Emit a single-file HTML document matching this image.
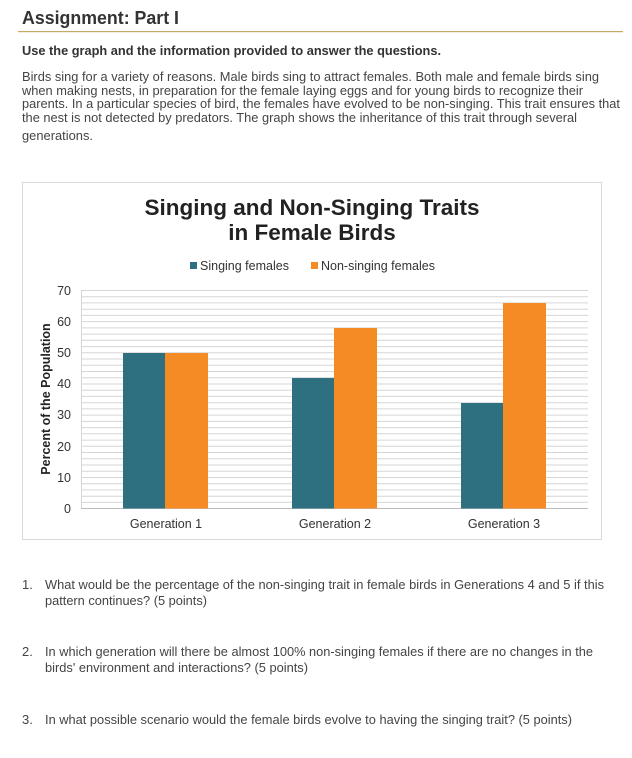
<!DOCTYPE html>
<html><head><meta charset="utf-8"><style>
html,body{margin:0;padding:0;background:#fff;}
svg{display:block;font-family:"Liberation Sans",sans-serif;}
</style></head><body>
<svg width="632" height="758" viewBox="0 0 632 758" xmlns="http://www.w3.org/2000/svg">
<rect width="632" height="758" fill="#fff"/>
<text x="22" y="24" font-size="18.5" font-weight="bold" fill="#333" textLength="157" lengthAdjust="spacingAndGlyphs">Assignment: Part I</text>
<rect x="18" y="31" width="605" height="1.2" fill="#c9a865"/>
<text x="22" y="55" font-size="12.5" font-weight="bold" fill="#333" textLength="419" lengthAdjust="spacingAndGlyphs">Use the graph and the information provided to answer the questions.</text>
<g font-size="13" fill="#444">
<text x="22" y="81" textLength="577" lengthAdjust="spacingAndGlyphs">Birds sing for a variety of reasons. Male birds sing to attract females. Both male and female birds sing</text>
<text x="22" y="95" textLength="561" lengthAdjust="spacingAndGlyphs">when making nests, in preparation for the female laying eggs and for young birds to recognize their</text>
<text x="22" y="108" textLength="598" lengthAdjust="spacingAndGlyphs">parents. In a particular species of bird, the females have evolved to be non-singing. This trait ensures that</text>
<text x="22" y="122" textLength="555" lengthAdjust="spacingAndGlyphs">the nest is not detected by predators. The graph shows the inheritance of this trait through several</text>
<text x="22" y="140" textLength="71" lengthAdjust="spacingAndGlyphs">generations.</text>
</g>
<rect x="22.5" y="182.5" width="579" height="357" fill="#fff" stroke="#d9d9d9"/>
<text x="312" y="215" font-size="22.5" font-weight="bold" fill="#222" text-anchor="middle">Singing and Non-Singing Traits</text>
<text x="312" y="240" font-size="22.5" font-weight="bold" fill="#222" text-anchor="middle">in Female Birds</text>
<rect x="190" y="262" width="7" height="7" fill="#2e6f80"/>
<text x="200" y="270" font-size="12.5" fill="#333">Singing females</text>
<rect x="311" y="262" width="7" height="7" fill="#f58b25"/>
<text x="321" y="270" font-size="12.5" fill="#333">Non-singing females</text>
<g stroke="#d6d6d6" stroke-width="1">
<line x1="81" x2="588" y1="290.5" y2="290.5"/><line x1="81" x2="588" y1="296.7" y2="296.7"/><line x1="81" x2="588" y1="302.9" y2="302.9"/><line x1="81" x2="588" y1="309.2" y2="309.2"/><line x1="81" x2="588" y1="315.4" y2="315.4"/><line x1="81" x2="588" y1="321.6" y2="321.6"/><line x1="81" x2="588" y1="327.9" y2="327.9"/><line x1="81" x2="588" y1="334.1" y2="334.1"/><line x1="81" x2="588" y1="340.3" y2="340.3"/><line x1="81" x2="588" y1="346.6" y2="346.6"/><line x1="81" x2="588" y1="352.8" y2="352.8"/><line x1="81" x2="588" y1="359.0" y2="359.0"/><line x1="81" x2="588" y1="365.3" y2="365.3"/><line x1="81" x2="588" y1="371.5" y2="371.5"/><line x1="81" x2="588" y1="377.7" y2="377.7"/><line x1="81" x2="588" y1="384.0" y2="384.0"/><line x1="81" x2="588" y1="390.2" y2="390.2"/><line x1="81" x2="588" y1="396.4" y2="396.4"/><line x1="81" x2="588" y1="402.7" y2="402.7"/><line x1="81" x2="588" y1="408.9" y2="408.9"/><line x1="81" x2="588" y1="415.1" y2="415.1"/><line x1="81" x2="588" y1="421.4" y2="421.4"/><line x1="81" x2="588" y1="427.6" y2="427.6"/><line x1="81" x2="588" y1="433.8" y2="433.8"/><line x1="81" x2="588" y1="440.1" y2="440.1"/><line x1="81" x2="588" y1="446.3" y2="446.3"/><line x1="81" x2="588" y1="452.5" y2="452.5"/><line x1="81" x2="588" y1="458.8" y2="458.8"/><line x1="81" x2="588" y1="465.0" y2="465.0"/><line x1="81" x2="588" y1="471.2" y2="471.2"/><line x1="81" x2="588" y1="477.5" y2="477.5"/><line x1="81" x2="588" y1="483.7" y2="483.7"/><line x1="81" x2="588" y1="489.9" y2="489.9"/><line x1="81" x2="588" y1="496.2" y2="496.2"/><line x1="81" x2="588" y1="502.4" y2="502.4"/>
<line x1="81.5" x2="81.5" y1="290" y2="509"/>
</g>
<line x1="81" x2="588" y1="508.5" y2="508.5" stroke="#bbb"/>
<g font-size="12.5" fill="#333" text-anchor="end">
<text x="71" y="295">70</text><text x="71" y="326">60</text><text x="71" y="357">50</text><text x="71" y="388">40</text><text x="71" y="419">30</text><text x="71" y="451">20</text><text x="71" y="482">10</text><text x="71" y="513">0</text>
</g>
<text transform="translate(50,399) rotate(-90)" font-size="12.5" font-weight="bold" fill="#222" text-anchor="middle">Percent of the Population</text>
<g>
<rect x="123" y="353" width="42" height="155.5" fill="#2e6f80"/>
<rect x="165" y="353" width="43" height="155.5" fill="#f58b25"/>
<rect x="292" y="378" width="42" height="130.5" fill="#2e6f80"/>
<rect x="334" y="328" width="43" height="180.5" fill="#f58b25"/>
<rect x="461" y="403" width="42" height="105.5" fill="#2e6f80"/>
<rect x="503" y="303" width="43" height="205.5" fill="#f58b25"/>
</g>
<g font-size="12.5" fill="#333" text-anchor="middle">
<text x="166" y="528">Generation 1</text><text x="335" y="528">Generation 2</text><text x="504" y="528">Generation 3</text>
</g>
<g font-size="13" fill="#444">
<text x="22" y="589">1.</text>
<text x="45" y="589" textLength="559" lengthAdjust="spacingAndGlyphs">What would be the percentage of the non-singing trait in female birds in Generations 4 and 5 if this</text>
<text x="45" y="605" textLength="162" lengthAdjust="spacingAndGlyphs">pattern continues? (5 points)</text>
<text x="22" y="656">2.</text>
<text x="45" y="656" textLength="548" lengthAdjust="spacingAndGlyphs">In which generation will there be almost 100% non-singing females if there are no changes in the</text>
<text x="45" y="672" textLength="263" lengthAdjust="spacingAndGlyphs">birds' environment and interactions? (5 points)</text>
<text x="22" y="724">3.</text>
<text x="45" y="724" textLength="527" lengthAdjust="spacingAndGlyphs">In what possible scenario would the female birds evolve to having the singing trait? (5 points)</text>
</g>
</svg>
</body></html>
